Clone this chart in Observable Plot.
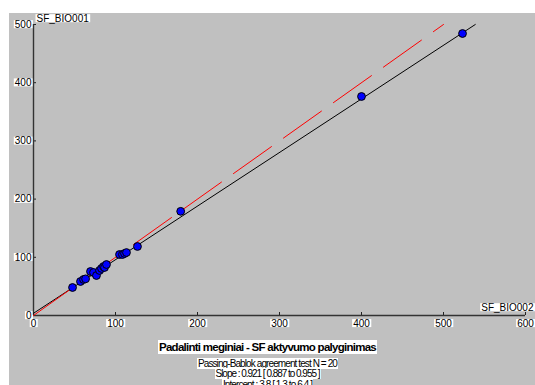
<!DOCTYPE html>
<html>
<head>
<meta charset="utf-8">
<script src="https://cdn.jsdelivr.net/npm/d3@7"></script>
<script src="https://cdn.jsdelivr.net/npm/@observablehq/plot@0.6"></script>
<style>
  html, body { margin: 0; padding: 0; background: #fff; }
  #wrap { position: relative; width: 535px; height: 385px; overflow: hidden;
          font-family: "Liberation Sans", Arial, sans-serif; color: #000; }
  #panel { position: absolute; left: 9px; top: 13px; right: 0; bottom: 0; background: #c0c0c0; }
  #chart { position: absolute; left: 0; top: 0; }
  .cap { position: absolute; left: 0; width: 535px; text-align: center; }
  .cap span { background: #fff; padding: 0 1px; white-space: nowrap; display: inline-block; }
</style>
</head>
<body>
<div id="wrap">
  <div id="panel"></div>
  <div id="chart"></div>
  <div class="cap" style="top:340px;font-weight:bold;font-size:11.5px;line-height:14px"><span data-w="217" id="title"></span></div>
  <div class="cap" style="top:357.5px;font-size:10px;line-height:11px"><span data-w="139" id="l1"></span></div>
  <div class="cap" style="top:368px;font-size:10px;line-height:11px"><span data-w="104" id="l2"></span></div>
  <div class="cap" style="top:378.5px;font-size:10px;line-height:11px"><span data-w="89" id="l3"></span></div>
</div>
<script>
// Paired measurements: SF activity, method BIO002 (x) vs BIO001 (y)
const bio002 = [47.6, 57.3, 61.0, 63.5, 69.5, 73.2, 76.8, 80.5, 82.9, 85.4,
                86.6, 89.0, 104.9, 108.5, 111.0, 113.4, 126.8, 179.5, 400.0, 523.2];
const bio001 = [48.1, 58.4, 61.9, 63.0, 75.6, 73.9, 68.7, 77.3, 80.8, 84.2,
                82.5, 87.6, 104.8, 104.8, 106.5, 108.2, 118.6, 179.0, 376.3, 484.5];

// Passing-Bablok fit
const slope = 0.921, slopeLo = 0.887, slopeHi = 0.955;
const intercept = 3.8, interceptLo = 1.3, interceptHi = 6.4;

const xTicks = [0, 100, 200, 300, 400, 500, 600];
const yTicks = [0, 100, 200, 300, 400, 500];
const xName = "SF_BIO002";
const yName = "SF_BIO001";
const titleText = "Padalinti meginiai - SF aktyvumo palyginimas";

const points = bio002.map((x, i) => ({x, y: bio001[i]}));
const yMax = d3.max(yTicks);
const xMax = d3.max(xTicks);

const W = 535, H = 335;
const mL = 33, mR = 10, mT = 24, mB = 20;
const plotW = W - mL - mR, plotH = H - mT - mB;

const chart = Plot.plot({
  width: W, height: H,
  marginLeft: mL, marginRight: mR, marginTop: mT, marginBottom: mB,
  style: {background: "transparent", fontFamily: "'Liberation Sans', Arial, sans-serif", fontSize: "10px", overflow: "visible"},
  x: {domain: [0, xMax], axis: null},
  y: {domain: [0, yMax], axis: null},
  marks: [
    // tick labels
    Plot.axisX(xTicks, {anchor: "bottom", label: null, tickSize: 0, tickPadding: 4, fill: "#000", letterSpacing: "-0.7px"}),
    Plot.axisY(yTicks, {anchor: "left", label: null, tickSize: 0, tickPadding: 2, fill: "#000", letterSpacing: "-0.7px"}),
    // short inward ticks
    Plot.tickX(xTicks, {x: d => d, insetTop: plotH - 3, stroke: "#222", strokeWidth: 1}),
    Plot.tickY(yTicks, {y: d => d, insetRight: plotW - 3, stroke: "#222", strokeWidth: 1}),
    // axis lines
    Plot.ruleX([0], {stroke: "#333", strokeWidth: 1.4}),
    Plot.ruleY([0], {stroke: "#333", strokeWidth: 1.4}),
    // regression line
    Plot.line([0, (yMax - intercept) / slope], {x: d => d, y: d => intercept + slope * d,
      stroke: "#000", strokeWidth: 1}),
    // line of identity
    Plot.line([0, yMax], {x: d => d, y: d => d, stroke: "#ff0000", strokeWidth: 1,
      strokeDasharray: "46.6,14.7"}),
    // measurements
    Plot.dot(points, {x: "x", y: "y", r: 3.9, fill: "#0000ff", stroke: "#000", strokeWidth: 1}),
    // axis names
    Plot.text([yName], {frameAnchor: "top-left", dx: 3, dy: -6, textAnchor: "start", lineAnchor: "middle",
      fill: "#000", letterSpacing: "-0.95px"}),
    Plot.text([xName], {frameAnchor: "bottom-right", dx: 8, dy: -8, textAnchor: "end", lineAnchor: "middle",
      fill: "#000", letterSpacing: "-0.95px"})
  ]
});
document.getElementById("chart").appendChild(chart);

// white boxes behind every text label
chart.querySelectorAll("text").forEach(t => {
  const b = t.getBBox();
  const r = document.createElementNS("http://www.w3.org/2000/svg", "rect");
  r.setAttribute("x", b.x - 1);
  r.setAttribute("y", b.y + 1.5);
  r.setAttribute("width", b.width + 2);
  r.setAttribute("height", Math.max(0, b.height - 3));
  r.setAttribute("fill", "#fff");
  r.setAttribute("stroke", "none");
  const tr = t.getAttribute("transform");
  if (tr) r.setAttribute("transform", tr);
  t.parentNode.insertBefore(r, t);
});

// caption lines
document.getElementById("title").textContent = titleText;
document.getElementById("l1").textContent = `Passing-Bablok agreement test N = ${points.length}`;
document.getElementById("l2").textContent = `Slope : ${slope} [ ${slopeLo} to ${slopeHi} ]`;
document.getElementById("l3").textContent = `Intercept : ${intercept} [ ${interceptLo} to ${interceptHi} ]`;

// condense each caption line to its set width
document.querySelectorAll(".cap span").forEach(s => {
  const target = +s.dataset.w;
  const w = s.getBoundingClientRect().width - 2;
  const n = s.textContent.length;
  s.style.letterSpacing = ((target - w) / n) + "px";
});
</script>
</body>
</html>
